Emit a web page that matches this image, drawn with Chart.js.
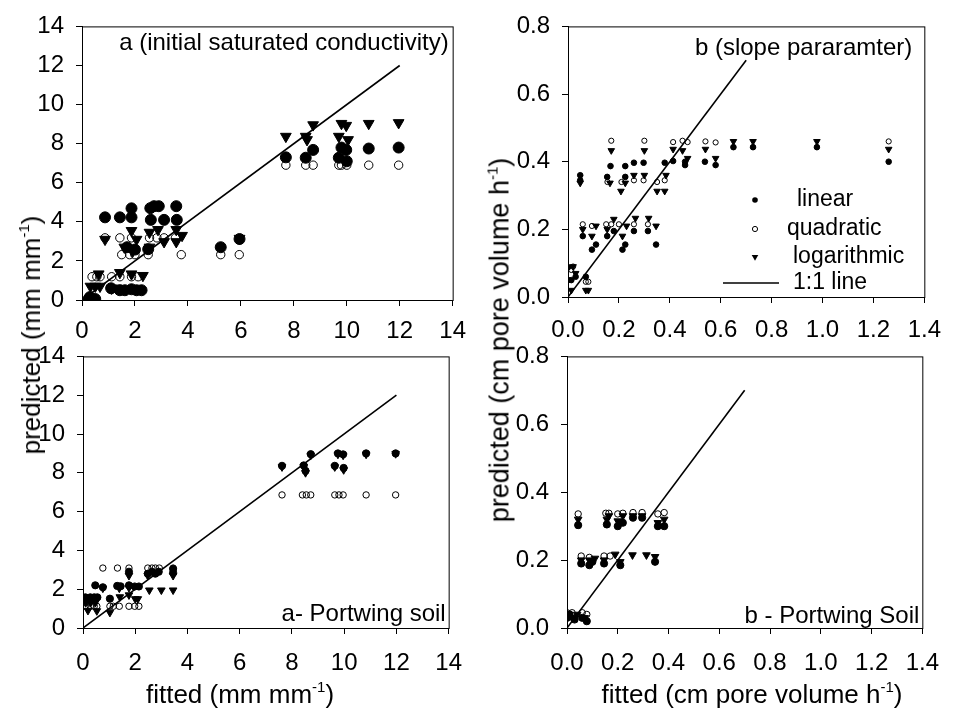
<!DOCTYPE html>
<html>
<head>
<meta charset="utf-8">
<script src="https://cdn.jsdelivr.net/npm/chart.js@4.4.1/dist/chart.umd.min.js"></script>
<style>
  html, body { margin:0; padding:0; background:#fff; }
  #wrap { position:relative; width:954px; height:715px; overflow:hidden; font-family:"Liberation Sans", Arial, sans-serif; color:#000; }
  canvas { position:absolute; }
  .ttl { position:absolute; font-size:26px; white-space:nowrap; line-height:1; }
  .ttl sup { font-size:15px; vertical-align:top; position:relative; top:-2px; }
  .rot { transform-origin:center center; transform:translate(-50%,-50%) rotate(-90deg); }
  .hor { transform:translate(-50%,-50%); }
</style>
</head>
<body>
<div id="wrap">
  <canvas id="cTL" style="left:0;top:0;" width="477" height="360"></canvas>
  <canvas id="cTR" style="left:477px;top:0;" width="477" height="360"></canvas>
  <canvas id="cBL" style="left:0;top:330px;" width="477" height="385"></canvas>
  <canvas id="cBR" style="left:477px;top:330px;" width="477" height="385"></canvas>
  <div class="ttl rot" style="left:31px;top:335px;">predicted (mm mm<sup>-1</sup>)</div>
  <div class="ttl rot" style="left:500px;top:340px;font-size:27px;">predicted (cm pore volume h<sup>-1</sup>)</div>
  <div class="ttl hor" style="left:240px;top:694px;">fitted (mm mm<sup>-1</sup>)</div>
  <div class="ttl hor" style="left:752px;top:694px;">fitted (cm pore volume h<sup>-1</sup>)</div>
</div>
<script>
// ---------- DATA ----------
// Panel a (initial saturated conductivity)
const aLinearX = [0.25,0.5,0.3, 0.87,1.43,1.87,1.87,2.58,2.72,2.9,2.6,3.1,3.56,3.58, 1.1,1.43,1.62,1.87,2.06,2.25, 2.0,1.7,2.5, 5.24,5.95, 7.7,8.45,8.73,9.7,9.8,9.98,10.0,10.83,11.96];
const aLinearY = [0.05,0.05,0.15, 4.23,4.23,4.69,4.23,4.7,4.8,4.8,4.1,4.1,4.8,4.1, 0.6,0.5,0.5,0.55,0.5,0.5, 2.58,2.7,2.6, 2.7,3.12, 7.3,7.28,7.68,7.28,7.8,7.68,7.1,7.75,7.8];
const aQuadX = [0.38,0.56,0.68,1.12,1.43,1.87,2.12, 0.87,1.43,1.87,2.55,2.83,3.1,3.53, 1.5,1.8,2.0,2.5,3.75, 5.24,5.94, 7.7,8.45,8.73,9.7,9.8,10.0,10.83,11.96];
const aQuadY = [1.19,1.19,1.19,1.19,1.19,1.19,1.19, 3.18,3.18,3.18,3.18,3.18,3.18,3.18, 2.32,2.32,2.32,2.32,2.32, 2.32,2.32, 6.9,6.9,6.9,6.9,6.9,6.9,6.9,6.9];
const aLogX = [0.32,0.5,0.68,0.63,1.12,1.3,1.43,1.87,2.3, 0.87,1.6,1.87,2.06,1.9,2.55,2.55,2.87,3.1,3.56,3.56,3.78, 5.95, 7.7,8.45,8.5,8.73,9.7,9.8,9.98,10.05,10.83,11.96];
const aLogY = [0.7,0.7,0.7,1.33,0.6,0.6,1.4,1.33,1.25, 3.1,2.7,3.55,3.1,2.5,3.46,2.7,3.6,2.98,3.6,2.98,3.3, 3.15, 8.37,8.37,8.2,8.96,8.37,9.03,8.93,8.2,9.03,9.07];

// Panel b (slope parameter)
const bLinearX = [0,0.013,0,0.03,0.07, 0.048,0.048, 0.058,0.094,0.11,0.154,0.167,0.154,0.18,0.214,0.225,0.225,0.225,0.259,0.259,0.297,0.314,0.346,0.38,0.413,0.46,0.46,0.538,0.58,0.65,0.727,0.978,1.26];
const bLinearY = [0.088,0.05,0.05,0.06,0.06, 0.36,0.345, 0.18,0.14,0.155,0.355,0.387,0.18,0.195,0.14,0.155,0.387,0.355,0.397,0.195,0.397,0.195,0.155,0.397,0.402,0.39,0.40,0.40,0.39,0.443,0.443,0.443,0.40];
const bQuadX = [0.013,0.02,0.07,0.08, 0.058,0.094,0.15,0.17,0.2,0.259,0.314, 0.155,0.21,0.259,0.297,0.35,0.38, 0.17,0.3,0.413,0.45,0.47,0.54,0.58,1.26];
const bQuadY = [0.08,0.09,0.045,0.045, 0.215,0.21,0.215,0.215,0.215,0.215,0.215, 0.34,0.34,0.345,0.345,0.34,0.345, 0.462,0.462,0.458,0.462,0.458,0.46,0.457,0.46];
const bLogX = [0.013,0.07,0.08,0.03,0.02, 0.048,0.165,0.208,0.225, 0.17,0.3,0.413,0.45,0.47,0.54,0.58,0.65,0.727,0.978,1.26, 0.058,0.094,0.11,0.154,0.18,0.214,0.23,0.265,0.317,0.346, 0.259,0.3,0.35,0.38,0.385];
const bLogY = [0.02,0.02,0.02,0.07,0.09, 0.337,0.337,0.313,0.337, 0.433,0.433,0.437,0.433,0.41,0.437,0.41,0.46,0.46,0.46,0.437, 0.2,0.18,0.21,0.2,0.23,0.18,0.21,0.233,0.233,0.21, 0.36,0.36,0.313,0.313,0.36];

// Panel a - Portwing soil
const apLinearX = [0.09,0.28,0.43,0.55,1.03, 0.47,0.76,1.31,1.44,1.76,1.76,1.98,2.14, 2.48,2.64,2.77,2.9,3.45,3.45, 7.62,8.45,8.52,8.72,9.64,9.76,9.96,9.98,10.84,11.97];
const apLinearY = [1.58,1.58,1.58,1.58,1.51, 2.2,2.1,2.17,2.15,2.9,2.2,2.14,2.14, 2.8,2.9,2.8,2.9,2.85,3.05, 8.36,8.38,8.1,8.96,8.36,9.0,8.95,8.25,9.0,9.0];
const apQuadX = [0.76,1.32,1.76,2.48,2.64,2.77,2.92,3.45, 0.09,0.28,0.43,0.53,1.03,1.16,1.39,1.76,1.98,2.14, 7.62,8.4,8.55,8.72,9.64,9.8,9.96,10.84,11.97];
const apQuadY = [3.09,3.09,3.09,3.09,3.09,3.09,3.09,3.09, 1.12,1.12,1.12,1.12,1.12,1.12,1.12,1.12,1.12,1.12, 6.86,6.86,6.86,6.86,6.86,6.86,6.86,6.86,6.86];
const apLogX = [0.76,1.39,1.76,2.54,3.0,3.45, 1.41,1.76,2.0,2.1, 0.1,0.28,0.47,0.19,0.53,1.03, 1.76,2.48,3.45, 7.62,8.45,8.52,8.72,9.64,9.76,9.96,9.98,10.84,11.97];
const apLogY = [2.05,2.05,2.08,1.95,1.95,1.95, 1.6,1.7,1.5,1.5, 1.3,1.3,1.3,0.9,0.88,0.8, 2.7,2.7,2.7, 8.3,8.32,8.0,8.9,8.3,8.95,8.9,8.15,8.95,8.98];

// Panel b - Portwing Soil
const bpLinearX = [0.044,0.157,0.2,0.22,0.26,0.296,0.358,0.383, 0.056,0.088,0.1,0.146,0.21,0.347, 0.0,0.03,0.06,0.078,0.01];
const bpLinearY = [0.303,0.305,0.3,0.31,0.325,0.325,0.3,0.3, 0.19,0.185,0.195,0.19,0.185,0.195, 0.03,0.025,0.03,0.02,0.04];
const bpQuadX = [0.044,0.153,0.165,0.2,0.22,0.26,0.296,0.358,0.383, 0.056,0.088,0.146,0.17, 0.0,0.02,0.06,0.078];
const bpQuadY = [0.336,0.338,0.338,0.336,0.338,0.34,0.34,0.336,0.34, 0.212,0.208,0.212,0.212, 0.045,0.045,0.045,0.04];
const bpLogX = [0.044,0.157,0.165,0.2,0.22,0.26,0.296,0.358,0.383, 0.056,0.088,0.11,0.146,0.19,0.21,0.258,0.313,0.347, 0.0,0.02,0.04,0.07];
const bpLogY = [0.32,0.32,0.33,0.315,0.33,0.33,0.33,0.31,0.32, 0.2,0.2,0.205,0.2,0.217,0.195,0.215,0.215,0.21, 0.035,0.03,0.04,0.03];

// 1:1 lines
const lineAX = [0, 12], lineAY = [0, 12];
const lineBX = [0, 0.7], lineBY = [0, 0.7];

// Ticks
const aTicks = [0,2,4,6,8,10,12,14];
const bTicks = [0.0,0.2,0.4,0.6,0.8,1.0,1.2,1.4];
const bYTicks = [0.0,0.2,0.4,0.6,0.8];

// Labels
const seriesNames = ['linear','quadratic','logarithmic','1:1 line'];

// ---------- HELPERS ----------
const FONT = '"Liberation Sans", Arial, sans-serif';
const zip = (xs, ys) => xs.map((x, i) => ({x: x, y: ys[i]}));

function datasets(lx, ly, qx, qy, gx, gy, ox, oy, sz) {
  return [
    { label: seriesNames[0], data: zip(lx, ly), pointStyle: 'circle', pointRadius: sz.c,
      backgroundColor: '#000', borderColor: '#000', borderWidth: 1, showLine: false },
    { label: seriesNames[1], data: zip(qx, qy), pointStyle: 'circle', pointRadius: sz.o,
      backgroundColor: 'rgba(0,0,0,0)', borderColor: '#000', borderWidth: 1, showLine: false },
    { label: seriesNames[2], data: zip(gx, gy), pointStyle: 'triangle', rotation: 180, pointRadius: sz.t,
      backgroundColor: '#000', borderColor: '#000', borderWidth: 1, showLine: false },
    { label: seriesNames[3], data: zip(ox, oy), showLine: true, pointRadius: 0,
      borderColor: '#000', borderWidth: 1.6, fill: false }
  ];
}

const framePlugin = {
  id: 'frame',
  afterDatasetsDraw(chart, args, opts) {
    const {ctx, chartArea: a} = chart;
    ctx.save();
    ctx.strokeStyle = '#000';
    ctx.lineWidth = 1;
    ctx.strokeRect(a.left + 0.5, a.top + 0.5, a.right - a.left, a.bottom - a.top);
    if (opts.text) {
      ctx.font = '24px ' + FONT;
      ctx.fillStyle = '#000';
      ctx.textAlign = 'right';
      ctx.textBaseline = 'middle';
      const y = opts.pos === 'top' ? a.top + opts.dy : a.bottom - opts.dy;
      ctx.fillText(opts.text, a.right - opts.dx, y);
    }
    if (opts.legend) {
      ctx.font = '23px ' + FONT;
      ctx.textAlign = 'left';
      ctx.textBaseline = 'middle';
      const mx = 278, tx = 320;
      const rows = [200, 229, 257, 283];
      const ds = chart.data.datasets;
      ctx.fillStyle = '#000';
      ctx.beginPath(); ctx.arc(mx, rows[0], ds[0].pointRadius, 0, Math.PI * 2); ctx.fill();
      ctx.beginPath(); ctx.arc(mx, rows[1], ds[1].pointRadius, 0, Math.PI * 2); ctx.stroke();
      const r = ds[2].pointRadius;
      ctx.beginPath();
      ctx.moveTo(mx - r * 0.866, rows[2] - r * 0.5);
      ctx.lineTo(mx + r * 0.866, rows[2] - r * 0.5);
      ctx.lineTo(mx, rows[2] + r);
      ctx.closePath(); ctx.fill();
      ctx.lineWidth = 1.6;
      ctx.beginPath(); ctx.moveTo(246, rows[3]); ctx.lineTo(302, rows[3]); ctx.stroke();
      ctx.fillText(ds[0].label, tx, rows[0]);
      ctx.fillText(ds[1].label, tx - 10, rows[1]);
      ctx.fillText(ds[2].label, tx - 4, rows[2]);
      ctx.fillText(ds[3].label, tx - 4, rows[3]);
    }
    ctx.restore();
  }
};

function makeChart(id, ds, box, xr, yr, xTicks, yTicks, fmt, frameOpts) {
  const el = document.getElementById(id);
  return new Chart(el, {
    type: 'scatter',
    data: { datasets: ds },
    plugins: [framePlugin],
    options: {
      responsive: false,
      animation: false,
      events: [],
      layout: { padding: { left: 0, top: box.top, right: box.right, bottom: 0 } },
      plugins: { legend: { display: false }, tooltip: { enabled: false }, frame: frameOpts },
      scales: {
        x: {
          type: 'linear', min: xr[0], max: xr[1],
          afterBuildTicks: s => { s.ticks = xTicks.map(v => ({value: v})); },
          afterFit: s => { s.height = box.xh; },
          grid: { drawOnChartArea: false, drawTicks: true, tickLength: 6, color: '#000', lineWidth: 1 },
          border: { display: true, color: '#000', width: 1 },
          ticks: { color: '#000', font: { family: FONT, size: 24 }, padding: box.xpad,
                   autoSkip: false, maxRotation: 0, callback: fmt }
        },
        y: {
          type: 'linear', min: yr[0], max: yr[1],
          afterBuildTicks: s => { s.ticks = yTicks.map(v => ({value: v})); },
          afterFit: s => { s.width = box.yw; },
          grid: { drawOnChartArea: false, drawTicks: true, tickLength: 6, color: '#000', lineWidth: 1 },
          border: { display: true, color: '#000', width: 1 },
          ticks: { color: '#000', font: { family: FONT, size: 24 }, padding: 12,
                   autoSkip: false, callback: fmt }
        }
      }
    }
  });
}

const fmtA = v => String(Math.round(v));
const fmtB = v => Number(v).toFixed(1);

makeChart('cTL',
  datasets(aLinearX, aLinearY, aQuadX, aQuadY, aLogX, aLogY, lineAX, lineAY, {c: 5.5, o: 4.2, t: 6.2}),
  {top: 18, right: 22, xh: 60, yw: 82, xpad: 11},
  [0, 14], [0, 14], aTicks, aTicks, fmtA,
  {text: 'a (initial saturated conductivity)', pos: 'top', dx: 4, dy: 17});

makeChart('cTR',
  datasets(bLinearX, bLinearY, bQuadX, bQuadY, bLogX, bLogY, lineBX, lineBY, {c: 2.8, o: 2.6, t: 3.8}),
  {top: 21, right: 21, xh: 63, yw: 91, xpad: 13},
  [0, 1.4], [0, 0.8], bTicks, bYTicks, fmtB,
  {text: 'b (slope pararamter)', pos: 'top', dx: 12, dy: 22, legend: true});

makeChart('cBL',
  datasets(apLinearX, apLinearY, apQuadX, apQuadY, apLogX, apLogY, lineAX, lineAY, {c: 3.6, o: 3.2, t: 4.4}),
  {top: 14, right: 24, xh: 87, yw: 83, xpad: 15},
  [0, 14], [0, 14], aTicks, aTicks, fmtA,
  {text: 'a- Portwing soil', pos: 'bottom', dx: 3, dy: 14});

makeChart('cBR',
  datasets(bpLinearX, bpLinearY, bpQuadX, bpQuadY, bpLogX, bpLogY, lineBX, lineBY, {c: 3.6, o: 3.2, t: 4.4}),
  {top: 13, right: 19, xh: 87, yw: 90, xpad: 15},
  [0, 1.4], [0, 0.8], bTicks, bYTicks, fmtB,
  {text: 'b - Portwing Soil', pos: 'bottom', dx: 3, dy: 12});
</script>
</body>
</html>
